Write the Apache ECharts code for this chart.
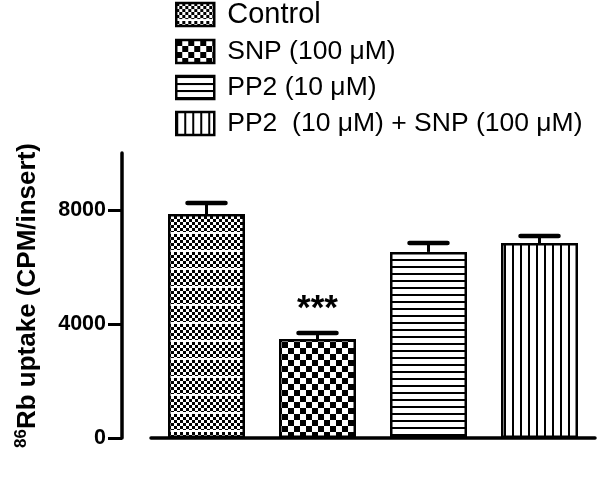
<!DOCTYPE html>
<html><head><meta charset="utf-8">
<script src="https://cdn.jsdelivr.net/npm/echarts@6/dist/echarts.min.js"></script>
<style>html,body{margin:0;padding:0;background:#fff}#c{width:600px;height:483px}</style>
</head><body><div id="c"></div>
<script>
const categories = ['Control', 'SNP (100 \u03bcM)', 'PP2 (10 \u03bcM)', 'PP2  (10 \u03bcM) + SNP (100 \u03bcM)'];
const means = [7860, 3470, 6530, 6840];
const sems = [390, 210, 310, 250];
const significance = ['', '***', '', ''];
const yTicks = [0, 4000, 8000];

function makePattern(kind) {
  const c = document.createElement('canvas');
  let ctx;
  if (kind === 0) {
    c.width = 6; c.height = 18; ctx = c.getContext('2d');
    ctx.fillStyle = '#fff'; ctx.fillRect(0, 0, 6, 18);
    ctx.fillStyle = '#000';
    for (let r = 0; r < 6; r++) for (let k = 0; k < 2; k++) if ((r + k) % 2 === 0) ctx.fillRect(k * 3, r * 3, 3, 3);
    ctx.fillStyle = '#fff'; ctx.fillRect(0, 16, 6, 2);
  } else if (kind === 1) {
    c.width = 12; c.height = 12; ctx = c.getContext('2d');
    ctx.fillStyle = '#fff'; ctx.fillRect(0, 0, 12, 12);
    ctx.fillStyle = '#000'; ctx.fillRect(0, 0, 6, 6); ctx.fillRect(6, 6, 6, 6);
  } else if (kind === 2) {
    c.width = 10; c.height = 7; ctx = c.getContext('2d');
    ctx.fillStyle = '#fff'; ctx.fillRect(0, 0, 10, 7);
    ctx.fillStyle = '#000'; ctx.fillRect(0, 0, 10, 2);
  } else {
    c.width = 8; c.height = 10; ctx = c.getContext('2d');
    ctx.fillStyle = '#fff'; ctx.fillRect(0, 0, 8, 10);
    ctx.fillStyle = '#000'; ctx.fillRect(0, 0, 2, 10);
  }
  return { image: c, repeat: 'repeat' };
}

const FONT = '"Liberation Sans", Arial, sans-serif';
const chart = echarts.init(document.getElementById('c'), null, { renderer: 'canvas' });

const barSeries = categories.map((name, i) => ({
  type: 'bar',
  name: name,
  data: categories.map((c, j) => (j === i ? means[i] : '-')),
  barWidth: 77,
  barGap: '-100%',
  itemStyle: { color: makePattern(i), borderColor: '#000', borderWidth: 2.5 },
  emphasis: { disabled: true },
  animation: false
}));

const errSeries = {
  type: 'custom',
  name: 'err',
  data: categories.map((c, i) => [i, means[i], sems[i]]),
  z: 5,
  animation: false,
  renderItem: function (params, api) {
    const i = api.value(0);
    const top = api.coord([i, api.value(1)]);
    const err = api.coord([i, api.value(1) + api.value(2)]);
    const children = [
      { type: 'line', shape: { x1: top[0], y1: top[1], x2: err[0], y2: err[1] }, style: { stroke: '#000', lineWidth: 3 } },
      { type: 'line', shape: { x1: err[0] - 19, y1: err[1], x2: err[0] + 19, y2: err[1] }, style: { stroke: '#000', lineWidth: 4.5, lineCap: 'round' } }
    ];
    const s = significance[params.dataIndex];
    if (s) {
      children.push({ type: 'text', style: { text: s, x: err[0], y: err[1] - 6, align: 'center', verticalAlign: 'bottom', font: 'bold 35px ' + FONT, fill: '#000' } });
    }
    return { type: 'group', children: children };
  }
};

chart.setOption({
  animation: false,
  textStyle: { fontFamily: FONT },
  legend: {
    orient: 'vertical',
    left: 170, top: -5,
    itemWidth: 38, itemHeight: 23, itemGap: 9,
    icon: 'rect',
    selectedMode: false,
    itemStyle: { borderColor: '#000', borderWidth: 2.5 },
    textStyle: { fontSize: 26.5, color: '#000', fontFamily: FONT, padding: [0, 0, 0, 8] },
    data: categories.map((n, i) => i === 0 ? { name: n, textStyle: { fontSize: 29 } } : { name: n })
  },
  grid: { left: 151, right: 5, top: 153, bottom: 45 },
  xAxis: {
    type: 'category',
    data: categories,
    offset: 32,
    axisLine: { lineStyle: { color: '#000', width: 3.5 } },
    axisTick: { alignWithLabel: true, length: 8, lineStyle: { color: '#000', width: 3 } },
    axisLabel: { show: false }
  },
  yAxis: {
    type: 'value',
    min: 0, max: 10000,
    offset: 29,
    name: '{sup|86}{m|Rb uptake (CPM/insert)}',
    nameLocation: 'middle',
    nameRotate: 90,
    nameGap: 80,
    nameTextStyle: {
      rich: {
        sup: { fontSize: 17, fontWeight: 'bold', fontFamily: FONT, color: '#000', verticalAlign: 'top', padding: [0, 0, 12, 0] },
        m: { fontSize: 26, fontWeight: 'bold', fontFamily: FONT, color: '#000' }
      }
    },
    axisLine: { show: true, lineStyle: { color: '#000', width: 3.5 } },
    axisTick: { show: true, length: 14, lineStyle: { color: '#000', width: 3 }, customValues: yTicks },
    axisLabel: { customValues: yTicks, formatter: function (v) { return String(v); }, fontSize: 21.5, fontWeight: 'bold', color: '#000', margin: 16, fontFamily: FONT },
    splitLine: { show: false }
  },
  series: barSeries.concat([errSeries])
});
</script>
</body></html>
